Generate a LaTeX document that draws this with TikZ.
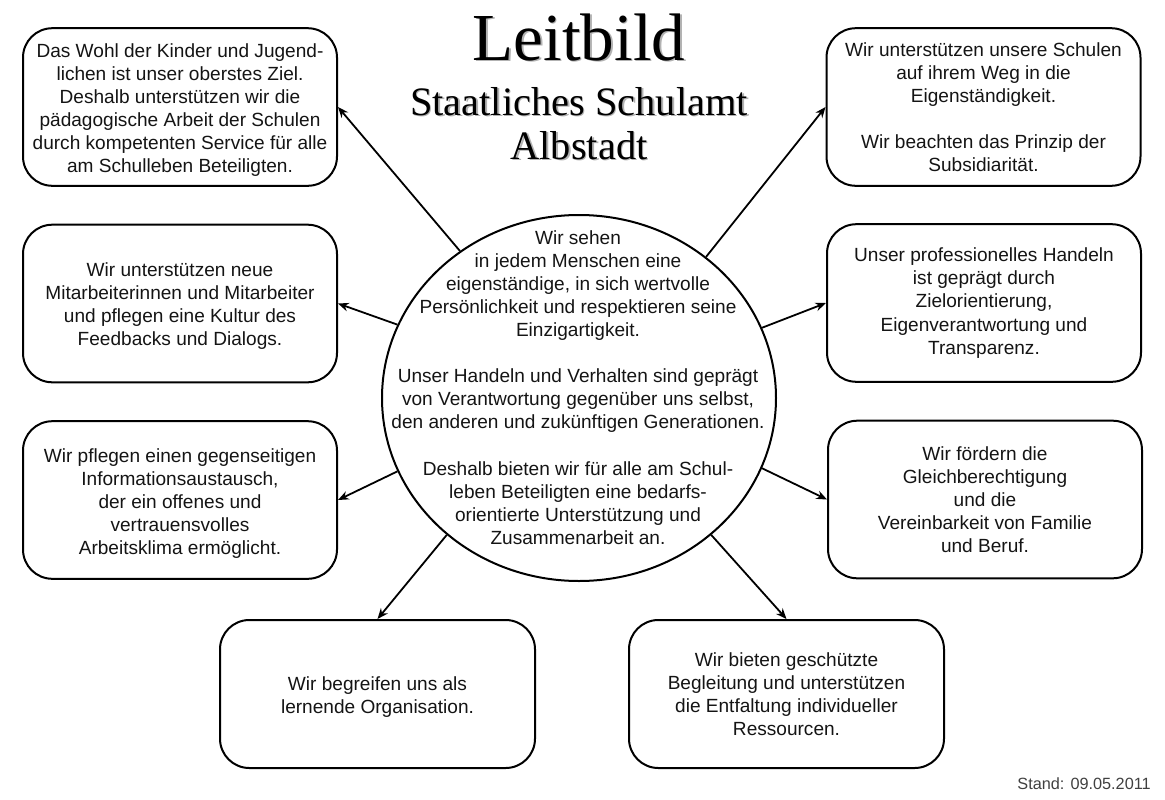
\documentclass[tikz,border=0pt]{standalone}
\usepackage{fontspec}
\setmainfont{Liberation Sans}
\newfontfamily\titlefont{Liberation Serif}
\usetikzlibrary{shapes.geometric,arrows.meta}
\newcommand{\shadowtext}[1]{\leavevmode\rlap{\kern1.1pt\raisebox{-1.1pt}{\textcolor{black!30}{#1}}}#1}
\newcommand{\lowerby}[1]{\rule{0pt}{#1}}
\tikzset{
  x=0.75pt,y=-0.75pt,
  txt/.style={align=center,inner sep=0pt,font=\fontsize{14.3}{17.3}\selectfont,text=black!92},
  boxbase/.style={draw=black,line width=1.5pt,rounded corners=22pt,inner sep=0pt,txt},
  sidebox/.style={boxbase,minimum width=235.5pt,minimum height=118.2pt},
  lowbox/.style={boxbase,minimum width=236.25pt,minimum height=111pt},
  hub/.style={draw=black,line width=1.5pt,ellipse,inner sep=0pt,minimum width=295.5pt,minimum height=274.5pt},
  link/.style={draw=black,line width=1.35pt,-{Stealth[length=8pt,width=6.5pt]}},
  mainhead/.style={anchor=base,inner sep=0pt,font=\titlefont\fontsize{50.4}{50.4}\selectfont},
  subhead/.style={anchor=base,inner sep=0pt,font=\titlefont\fontsize{30.3}{30.3}\selectfont},
  stamp/.style={anchor=base east,inner sep=0pt,font=\fontsize{12.2}{14}\selectfont,text=black!75}
}
\begin{document}
\begin{tikzpicture}
\useasboundingbox (0,0) rectangle (1165,800);
\node[mainhead] (title) at (579,60) {\shadowtext{Leitbild}};
\node[subhead] (sub1) at (579,115) {\shadowtext{Staatliches Schulamt}};
\node[subhead] (sub2) at (579,159) {\shadowtext{Albstadt}};
\node[hub] (hub) at (579,398) {};
\node[txt] (hubtext) at (578,387.5) {Wir sehen\\in jedem Menschen eine\\eigenständige, in sich wertvolle\\Persönlichkeit und respektieren seine\\Einzigartigkeit.\\[17.3pt]Unser Handeln und Verhalten sind geprägt\\von Verantwortung gegenüber uns selbst,\\den anderen und zukünftigen Generationen.\\[17.3pt]Deshalb bieten wir für alle am Schul-\\leben Beteiligten eine bedarfs-\\orientierte Unterstützung und\\Zusammenarbeit an.};
\node[sidebox] (b1) at (180,107) {\lowerby{14.8pt}Das Wohl der Kinder und Jugend-\\lichen ist unser oberstes Ziel.\\Deshalb unterstützen wir die\\pädagogische Arbeit der Schulen\\durch kompetenten Service für alle\\am Schulleben Beteiligten.};
\node[sidebox] (b2) at (180,303.5) {\lowerby{14.8pt}Wir unterstützen neue\\Mitarbeiterinnen und Mitarbeiter\\und pflegen eine Kultur des\\Feedbacks und Dialogs.};
\node[sidebox] (b3) at (180,500) {\lowerby{15.3pt}Wir pflegen einen gegenseitigen\\Informationsaustausch,\\der ein offenes und\\vertrauensvolles\\Arbeitsklima ermöglicht.};
\node[lowbox] (b4) at (377.5,694) {\lowerby{14.8pt}Wir begreifen uns als\\lernende Organisation.};
\node[lowbox] (b5) at (786.5,694) {Wir bieten geschützte\\Begleitung und unterstützen\\die Entfaltung individueller\\Ressourcen.};
\node[sidebox] (b6) at (983.5,107) {Wir unterstützen unsere Schulen\\auf ihrem Weg in die\\Eigenständigkeit.\\[17.3pt]Wir beachten das Prinzip der\\Subsidiarität.};
\node[sidebox] (b7) at (984,303) {Unser professionelles Handeln\\ist geprägt durch\\Zielorientierung,\\Eigenverantwortung und\\Transparenz.};
\node[sidebox] (b8) at (985,499.5) {Wir fördern die\\Gleichberechtigung\\und die\\Vereinbarkeit von Familie\\und Beruf.};
\node[stamp] (stand) at (1151,789) {Stand: 09.05.2011};
\draw[link] (hub.129.6) -- (b1.east);
\draw[link] (hub.158.7) -- (b2.east);
\draw[link] (hub.202.5) -- (b3.east);
\draw[link] (hub.226.7) -- (b4.north);
\draw[link] (hub.-46.7) -- (b5.north);
\draw[link] (hub.48.4) -- (b6.west);
\draw[link] (hub.21.4) -- (b7.west);
\draw[link] (hub.-21.3) -- (b8.west);
\end{tikzpicture}
\end{document}
